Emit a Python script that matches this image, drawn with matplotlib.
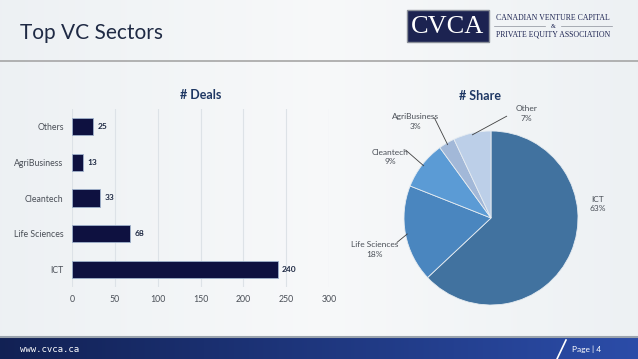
import numpy as np
import matplotlib
matplotlib.use("Agg")
import matplotlib.pyplot as plt
from matplotlib.patches import Rectangle

plt.rcParams['font.family'] = ['Lato', 'DejaVu Sans']

# data
sectors = ["ICT", "Life Sciences", "Cleantech", "AgriBusiness", "Others"]
deals = [240, 68, 33, 13, 25]
share_labels = ["ICT", "Life Sciences", "Cleantech", "AgriBusiness", "Other"]
share = [63, 18, 9, 3, 7]
xticks = [0, 50, 100, 150, 200, 250, 300]

W, H = 638, 359
fig = plt.figure(figsize=(W / 100, H / 100), dpi=100)

# background
bg = fig.add_axes([0, 0, 1, 1])
grad = np.abs(np.linspace(-1, 1, 256))[None, :]
bg.imshow(np.dstack([0.97 - 0.04 * grad, 0.975 - 0.03 * grad, 0.98 - 0.025 * grad]),
          extent=[0, W, H, 0], aspect="auto")
foot = np.linspace(0, 1, 256)[None, :]
fcol = np.dstack([0.07 + 0.10 * foot, 0.13 + 0.17 * foot, 0.33 + 0.33 * foot])
bg.imshow(fcol, extent=[0, W, H, 338], aspect="auto")
bg.set_xlim(0, W)
bg.set_ylim(H, 0)
bg.axis("off")
bg.plot([0, W], [61, 61], color="#a6a6a6", lw=1.2)
bg.plot([0, W], [337, 337], color="#9aa3ad", lw=1.5)
bg.plot([557, 566], [359, 340], color="white", lw=1.2)
bg.text(20, 349, "www.cvca.ca", color="white", fontsize=6.5, va="center", family="DejaVu Sans Mono")
bg.text(601, 349, "Page | 4", color="white", fontsize=6, va="center", ha="right")
bg.text(20, 33, "Top VC Sectors", color="#1f2a44", fontsize=15, va="center")
# logo
bg.add_patch(Rectangle((407, 10), 82, 32, facecolor="#1c2351", edgecolor="#8a8f99", lw=1))
bg.text(448, 27, "CVCA", color="white", fontsize=19, ha="center", va="center", family="Liberation Serif")
bg.text(553, 18, "CANADIAN VENTURE CAPITAL", color="#1c2351", fontsize=5.6, ha="center", va="center", family="Liberation Serif")
bg.text(553, 26, "&", color="#1c2351", fontsize=4.5, ha="center", va="center", family="Liberation Serif")
bg.plot([494, 545], [26, 26], color="#8a8f99", lw=0.5)
bg.plot([561, 612], [26, 26], color="#8a8f99", lw=0.5)
bg.text(553, 34, "PRIVATE EQUITY ASSOCIATION", color="#1c2351", fontsize=5.6, ha="center", va="center", family="Liberation Serif")

# bar chart
ax = fig.add_axes([72 / W, 1 - 287 / H, 257 / W, 178 / H])
ax.set_facecolor("none")
y = np.arange(len(sectors))
ax.barh(y, deals, height=0.48, color="#0e1140", edgecolor="#9fb2cc", lw=0.6, zorder=3)
for yi, v in zip(y, deals):
    ax.text(v + 5, yi, str(v), va="center", ha="left", fontsize=6, fontweight="bold", color="#1f2a44")
ax.set_xlim(0, 300)
ax.set_ylim(-0.5, len(sectors) - 0.5)
ax.set_xticks(xticks)
ax.set_yticks(y)
ax.set_yticklabels(sectors)
ax.tick_params(length=0, labelsize=6.3, labelcolor="#4a4f57", pad=6)
ax.grid(axis="x", color="#dde2e7", lw=0.8, zorder=0)
for s in ax.spines.values():
    s.set_visible(False)
ax.set_title("# Deals", fontsize=9, fontweight="bold", color="#1f3864", pad=7)

# pie chart
R = 87
cx, cy = 491, 218
pa = fig.add_axes([(cx - 1.5 * R) / W, (H - cy - 1.5 * R) / H, 3 * R / W, 3 * R / H])
colors = ["#41729f", "#4a86bf", "#5b9bd5", "#a2b8d8", "#bccfe8"]
wedges, _ = pa.pie(share, colors=colors, startangle=90, counterclock=False,
                   wedgeprops=dict(edgecolor="#e6ecf1", lw=0.6), radius=1)
pa.set_xlim(-1.5, 1.5)
pa.set_ylim(-1.5, 1.5)
pa.set_aspect("equal")
pa.axis("off")
text_pos = [(1.23, 0.16), (-1.34, -0.36), (-1.16, 0.70), (-0.87, 1.11), (0.41, 1.20)]
line_end = [None, (-1.08, -0.28), (-0.98, 0.78), (-0.65, 1.15), (0.18, 1.17)]
for w, lab, val, tp, le in zip(wedges, share_labels, share, text_pos, line_end):
    pa.text(tp[0], tp[1], f"{lab}\n{val}%", ha="center", va="center", fontsize=6,
            color="#4a4f57", linespacing=1.4, clip_on=False)
    if le is not None:
        ang = np.deg2rad((w.theta1 + w.theta2) / 2)
        px, py = 0.98 * np.cos(ang), 0.98 * np.sin(ang)
        pa.plot([le[0], px], [le[1], py], color="#404040", lw=0.6, clip_on=False)
pa.text(-0.13, 1.4, "# Share", ha="center", va="center", fontsize=9, fontweight="bold", color="#1f3864")

fig.savefig("out.png", dpi=100)
